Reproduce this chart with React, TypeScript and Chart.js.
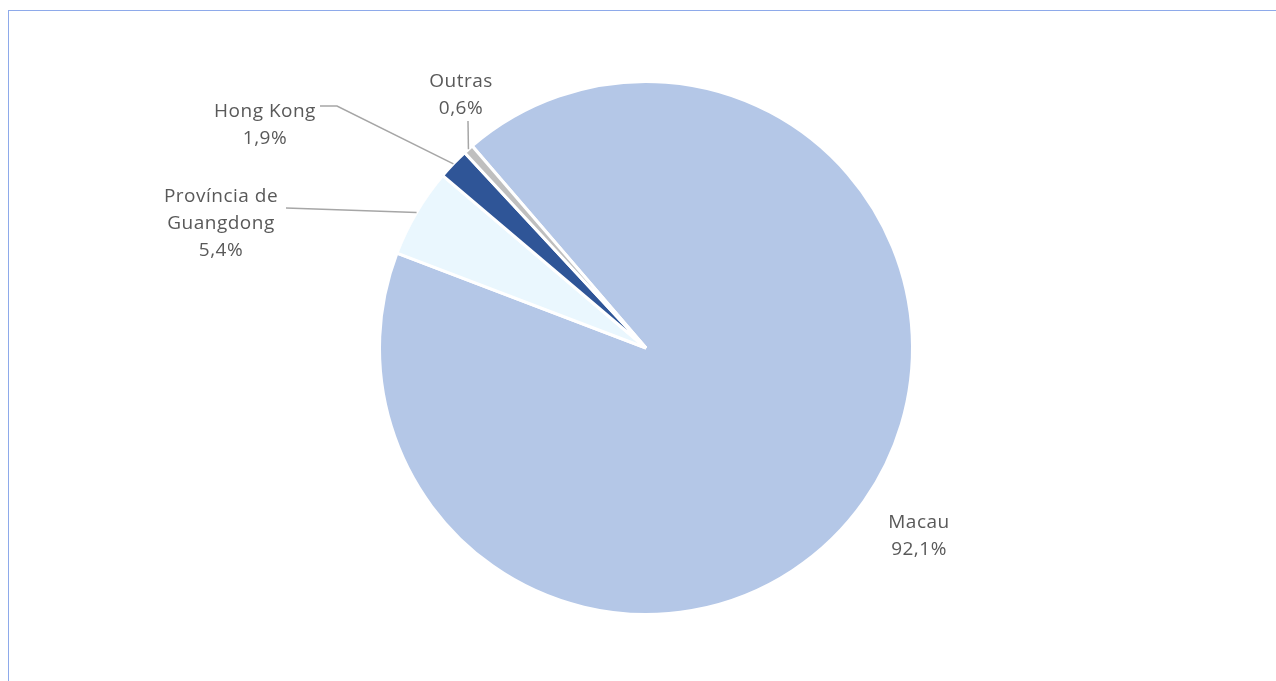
import React, { useEffect, useRef } from "react";
import { Chart, registerables } from "chart.js";

Chart.register(...registerables);

const categories = ["Macau", "Província de Guangdong", "Hong Kong", "Outras"];
const shares = [92.1, 5.4, 1.9, 0.6];
const labelLines = [
  ["Macau", "92,1%"],
  ["Província de", "Guangdong", "5,4%"],
  ["Hong Kong", "1,9%"],
  ["Outras", "0,6%"],
];
const sliceColors = ["#b4c7e7", "#eaf7fe", "#2f5597", "#bfbfbf"];

// layout: label center x, first baseline y, and leader-line bend points (label side)
const labelLayout = [
  { x: 919, y: 528, leader: [] as number[][] },
  { x: 221, y: 202, leader: [[286, 208]] },
  { x: 265, y: 117, leader: [[320, 106], [337, 106]] },
  { x: 461, y: 87, leader: [[468, 121]] },
];

const W = 1276;
const H = 681;

const labelPlugin = {
  id: "sliceLabels",
  afterDatasetsDraw(chart: any) {
    const ctx = chart.ctx as CanvasRenderingContext2D;
    const meta = chart.getDatasetMeta(0);
    ctx.save();
    meta.data.forEach((arc: any, i: number) => {
      const lay = labelLayout[i];
      const mid = (arc.startAngle + arc.endAngle) / 2;
      const ax = arc.x + Math.cos(mid) * arc.outerRadius;
      const ay = arc.y + Math.sin(mid) * arc.outerRadius;
      if (lay.leader.length) {
        ctx.strokeStyle = "#a6a6a6";
        ctx.lineWidth = 1.5;
        ctx.beginPath();
        ctx.moveTo(lay.leader[0][0], lay.leader[0][1]);
        for (let k = 1; k < lay.leader.length; k++) ctx.lineTo(lay.leader[k][0], lay.leader[k][1]);
        ctx.lineTo(ax, ay);
        ctx.stroke();
      }
      ctx.fillStyle = "#595959";
      ctx.font = '19px "Open Sans", sans-serif';
      (ctx as any).letterSpacing = "0.5px";
      ctx.textAlign = "center";
      ctx.textBaseline = "alphabetic";
      labelLines[i].forEach((t, k) => {
        ctx.fillText(t, lay.x, lay.y + k * 27);
      });
    });
    ctx.restore();
  },
};

export default function App() {
  const ref = useRef<HTMLCanvasElement>(null);
  useEffect(() => {
    if (!ref.current) return;
    const chart = new Chart(ref.current, {
      type: "pie",
      data: {
        labels: categories,
        datasets: [
          {
            data: shares,
            backgroundColor: sliceColors,
            borderColor: "#ffffff",
            borderWidth: 3,
          },
        ],
      },
      options: {
        responsive: false,
        animation: false,
        rotation: 319.3,
        layout: { padding: { left: 378, right: 362, top: 80, bottom: 65 } },
        plugins: {
          legend: { display: false },
          tooltip: { enabled: false },
        },
      },
      plugins: [labelPlugin],
    });
    return () => chart.destroy();
  }, []);
  return (
    <div style={{ position: "fixed", left: 0, top: 0, width: W, height: H, background: "#fff", overflow: "hidden" }}>
      <div
        style={{
          position: "absolute",
          left: 8,
          top: 10,
          width: W + 50,
          height: H + 50,
          borderTop: "1.5px solid #8eaaea",
          borderLeft: "1.5px solid #8eaaea",
        }}
      />
      <canvas ref={ref} width={W} height={H} style={{ position: "absolute", left: 0, top: 0 }} />
    </div>
  );
}
